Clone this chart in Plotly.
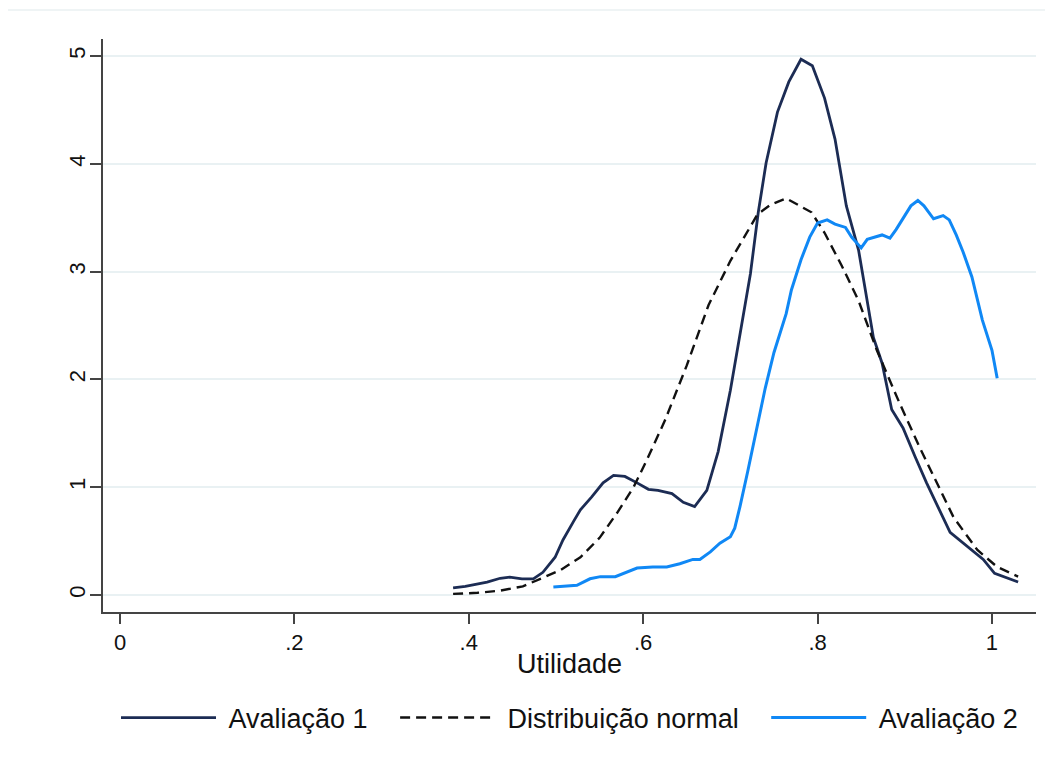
import plotly.graph_objects as go

# Avaliação 1 (kernel density)
av1_x = [0.382, 0.396, 0.421, 0.436, 0.447, 0.461, 0.474, 0.485, 0.499, 0.508,
         0.520, 0.528, 0.541, 0.554, 0.566, 0.579, 0.593, 0.606, 0.617, 0.633,
         0.646, 0.659, 0.673, 0.686, 0.700, 0.716, 0.723, 0.732, 0.741, 0.754,
         0.767, 0.781, 0.794, 0.808, 0.820, 0.833, 0.847, 0.864, 0.874, 0.885,
         0.898, 0.912, 0.925, 0.952, 0.963, 0.990, 1.003, 1.017, 1.030]
av1_y = [0.065, 0.08, 0.12, 0.155, 0.165, 0.15, 0.15, 0.21, 0.35, 0.51,
         0.68, 0.79, 0.91, 1.04, 1.11, 1.10, 1.04, 0.98, 0.97, 0.94,
         0.86, 0.82, 0.97, 1.33, 1.90, 2.64, 2.98, 3.55, 4.01, 4.48,
         4.76, 4.97, 4.91, 4.61, 4.23, 3.61, 3.20, 2.39, 2.15, 1.72,
         1.55, 1.28, 1.04, 0.58, 0.51, 0.33, 0.20, 0.16, 0.12]

# Distribuição normal
nrm_x = [0.382, 0.410, 0.436, 0.462, 0.485, 0.505, 0.528, 0.550, 0.570, 0.589,
         0.604, 0.625, 0.650, 0.675, 0.700, 0.731, 0.746, 0.764, 0.793, 0.808,
         0.828, 0.847, 0.868, 0.894, 0.917, 0.937, 0.956, 0.983, 1.006, 1.030]
nrm_y = [0.01, 0.02, 0.04, 0.08, 0.16, 0.23, 0.35, 0.53, 0.76, 1.00,
         1.25, 1.62, 2.13, 2.69, 3.10, 3.53, 3.62, 3.68, 3.55, 3.36,
         3.05, 2.73, 2.27, 1.78, 1.37, 1.04, 0.72, 0.42, 0.26, 0.17]

# Avaliação 2 (kernel density)
av2_x = [0.497, 0.524, 0.539, 0.551, 0.568, 0.581, 0.593, 0.611, 0.627, 0.642,
         0.657, 0.665, 0.677, 0.688, 0.700, 0.705, 0.711, 0.720, 0.730, 0.740,
         0.750, 0.764, 0.770, 0.781, 0.791, 0.800, 0.811, 0.820, 0.832, 0.839,
         0.850, 0.857, 0.874, 0.883, 0.890, 0.897, 0.907, 0.915, 0.922, 0.933,
         0.944, 0.951, 0.959, 0.967, 0.977, 0.989, 1.000, 1.006]
av2_y = [0.075, 0.09, 0.15, 0.17, 0.17, 0.21, 0.25, 0.26, 0.26, 0.29,
         0.33, 0.33, 0.40, 0.48, 0.54, 0.62, 0.82, 1.15, 1.55, 1.92,
         2.25, 2.61, 2.83, 3.11, 3.32, 3.45, 3.48, 3.44, 3.41, 3.32,
         3.22, 3.30, 3.34, 3.31, 3.39, 3.48, 3.61, 3.66, 3.61, 3.49,
         3.52, 3.48, 3.34, 3.18, 2.95, 2.55, 2.27, 2.01]

series_names = ["Avaliação 1", "Distribuição normal", "Avaliação 2"]
x_ticks = [0, 0.2, 0.4, 0.6, 0.8, 1]
x_labels = ["0", ".2", ".4", ".6", ".8", "1"]
y_ticks = [0, 1, 2, 3, 4, 5]

NAVY = "#1c2c54"
BLUE = "#1088f5"
FONT = "Liberation Sans, Arial, sans-serif"
NB = "\u00a0"

def pad(name, last=False):
    return NB + name + ("" if last else NB * 3)

fig = go.Figure()
fig.add_trace(go.Scatter(x=av1_x, y=av1_y, mode="lines", name=pad(series_names[0]),
                         line=dict(color=NAVY, width=2.8)))
fig.add_trace(go.Scatter(x=nrm_x, y=nrm_y, mode="lines", name=pad(series_names[1]),
                         line=dict(color="#111111", width=2.4, dash="10px,6px")))
fig.add_trace(go.Scatter(x=av2_x, y=av2_y, mode="lines", name=pad(series_names[2], True),
                         line=dict(color=BLUE, width=3)))

# page body has an 8px margin: figure is 8px smaller, plot area on page 103..1036 x 39..612
W, H = 1045, 763
ML, MR, MT, MB = 95, 17, 31, 159
PLOT_H = H - MT - MB

fig.update_layout(
    width=W, height=H,
    margin=dict(l=ML, r=MR, t=MT, b=MB, autoexpand=False),
    paper_bgcolor="white", plot_bgcolor="white",
    font=dict(family=FONT, color="#111111"),
    showlegend=True,
    legend=dict(orientation="h", x=0.5, xanchor="center", y=-(718 - 612) / PLOT_H,
                yanchor="middle",
                font=dict(size=27, family=FONT, color="#111111"),
                itemwidth=95, tracegroupgap=0, bgcolor="rgba(0,0,0,0)"),
    xaxis=dict(range=[-0.0195, 1.0505], tickvals=x_ticks, ticktext=x_labels,
               automargin=False,
               showgrid=False, zeroline=False, showline=True, linecolor="#444444",
               linewidth=1.5, ticks="outside", ticklen=10, tickwidth=1.5,
               tickcolor="#444444", tickfont=dict(size=22, family=FONT, color="#111111"),
               title=dict(text="Utilidade", font=dict(size=27, family=FONT, color="#111111"),
                          standoff=0)),
    yaxis=dict(range=[-0.158, 5.158], tickvals=y_ticks, automargin=False,
               showgrid=True, gridcolor="#e9f1f3", gridwidth=1.8,
               zeroline=False, showline=True, linecolor="#444444", linewidth=1.5,
               ticks="outside", ticklen=11, tickwidth=1.5, tickcolor="#444444",
               tickangle=-90, ticklabelstandoff=-4,
               tickfont=dict(size=22, family=FONT, color="#111111")),
    shapes=[dict(type="line", xref="paper", yref="paper",
                 x0=(7 - 103) / 933, x1=(1053 - 103) / 933,
                 y0=(612 - 10) / PLOT_H, y1=(612 - 10) / PLOT_H,
                 line=dict(color="#eaf1f2", width=1.5))],
)

fig.write_html("out.html")
